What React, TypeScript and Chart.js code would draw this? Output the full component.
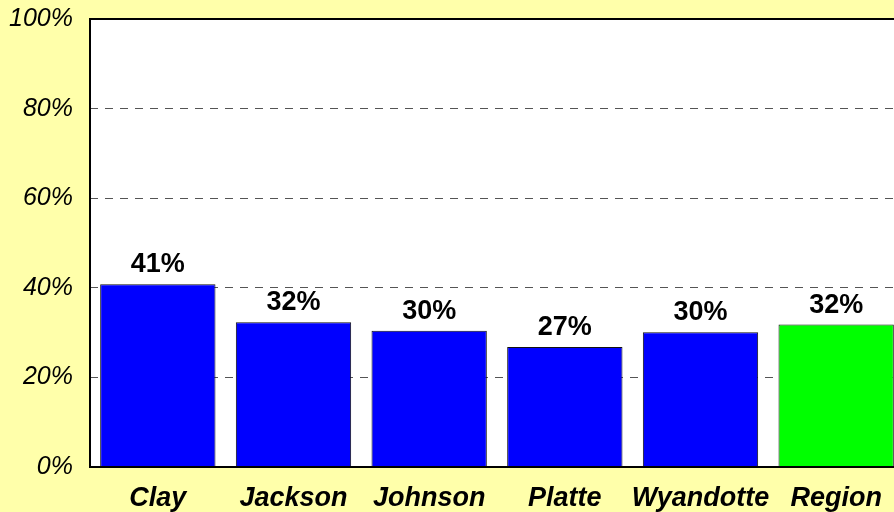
import React, { useEffect, useRef } from "react";
import { Chart, registerables } from "chart.js";

Chart.register(...registerables);

const categories = ["Clay", "Jackson", "Johnson", "Platte", "Wyandotte", "Region"];
const values = [40.8, 32.3, 30.4, 26.8, 30.1, 31.8];
const valueLabels = ["41%", "32%", "30%", "27%", "30%", "32%"];
const barColors = ["#0000FF", "#0000FF", "#0000FF", "#0000FF", "#0000FF", "#00FF00"];
const yTicks = [0, 20, 40, 60, 80, 100];

const FONT = "'Liberation Sans', Arial, Helvetica, sans-serif";

export default function App() {
  const ref = useRef<HTMLCanvasElement | null>(null);
  useEffect(() => {
    const canvas = ref.current!;
    const plotBg = {
      id: "plotBg",
      beforeDraw(chart: any) {
        const { ctx, chartArea: a } = chart;
        ctx.save();
        ctx.fillStyle = "#FFFFFF";
        ctx.fillRect(a.left, a.top, a.right - a.left, a.bottom - a.top);
        ctx.restore();
      },
      afterDatasetsDraw(chart: any) {
        const { ctx, chartArea: a } = chart;
        ctx.save();
        ctx.strokeStyle = "#000000";
        ctx.lineWidth = 2;
        ctx.strokeRect(a.left, a.top, a.right - a.left, a.bottom - a.top);
        ctx.fillStyle = "#000000";
        ctx.font = `bold 27px ${FONT}`;
        ctx.textAlign = "center";
        ctx.textBaseline = "alphabetic";
        const meta = chart.getDatasetMeta(0);
        meta.data.forEach((bar: any, i: number) => {
          ctx.fillText(valueLabels[i], bar.x, bar.y - 12);
        });
        ctx.restore();
      },
    };
    const chart = new Chart(canvas, {
      type: "bar",
      data: {
        labels: categories,
        datasets: [
          {
            data: values,
            backgroundColor: barColors,
            borderColor: "#111111",
            borderWidth: 1,
            barPercentage: 0.85,
            categoryPercentage: 1,
          },
        ],
      },
      options: {
        responsive: false,
        animation: false,
        layout: { padding: { top: 19, right: 16, left: 0, bottom: 0 } },
        plugins: { legend: { display: false }, tooltip: { enabled: false } },
        scales: {
          x: {
            grid: { display: false, drawTicks: false },
            border: { display: false },
            ticks: {
              color: "#000000",
              padding: 15,
              maxRotation: 0,
              autoSkip: false,
              font: { family: FONT, size: 27, style: "italic", weight: "bold" },
            },
            afterFit(scale: any) {
              scale.height = 45;
              scale.paddingLeft = 0;
              scale.paddingRight = 0;
            },
          },
          y: {
            min: 0,
            max: 100,
            afterBuildTicks(scale: any) {
              scale.ticks = yTicks.map((v) => ({ value: v }));
            },
            grid: {
              drawTicks: false,
              color: (c: any) =>
                c.tick && (c.tick.value === 0 || c.tick.value === 100) ? "rgba(0,0,0,0)" : "#555555",
              lineWidth: 1,
            },
            border: { display: false, dash: [8, 7] },
            ticks: {
              color: "#000000",
              padding: 17,
              callback: (v: any) => v + "%",
              font: { family: FONT, size: 25, style: "italic" },
            },
            afterFit(scale: any) {
              scale.width = 90;
              scale.paddingTop = 0;
              scale.paddingBottom = 0;
            },
          },
        },
      },
      plugins: [plotBg],
    } as any);
    return () => chart.destroy();
  }, []);
  return (
    <div
      style={{
        position: "fixed",
        left: 0,
        top: 0,
        width: 894,
        height: 512,
        overflow: "hidden",
        background: "#FFFFAA",
      }}
    >
      <canvas ref={ref} width={920} height={512} style={{ width: 920, height: 512, display: "block" }} />
    </div>
  );
}
